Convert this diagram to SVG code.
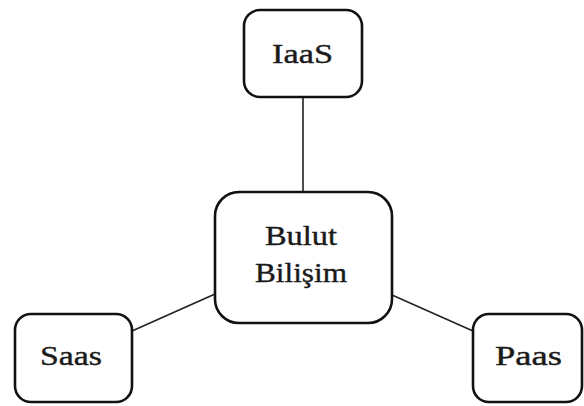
<svg xmlns="http://www.w3.org/2000/svg" width="584" height="406" viewBox="0 0 584 406">
  <style>
    .box { fill: #ffffff; stroke: #111111; stroke-width: 2.6; }
    .edge { stroke: #222222; stroke-width: 1.6; fill: none; }
    .label { font-family: "Liberation Serif", "Times New Roman", serif; font-size: 28px; fill: #1a1a1a; stroke: #1a1a1a; stroke-width: 0.4; text-anchor: middle; }
  </style>
  <rect width="584" height="406" fill="#ffffff"/>

  <!-- connectors from the centre node to each service model -->
  <g id="connectors">
    <line class="edge" x1="303" y1="97" x2="303" y2="192"/>
    <line class="edge" x1="132" y1="331" x2="215" y2="294"/>
    <line class="edge" x1="392" y1="295" x2="473" y2="331"/>
  </g>

  <g id="node-bulut">
    <rect class="box" x="215" y="192" width="177" height="131" rx="24" ry="24"/>
    <text class="label" x="301" y="245" textLength="72" lengthAdjust="spacingAndGlyphs">Bulut</text>
    <text class="label" x="301" y="282" textLength="92" lengthAdjust="spacingAndGlyphs">Bilişim</text>
  </g>

  <g id="node-iaas">
    <rect class="box" x="244" y="10" width="118" height="87" rx="16" ry="16"/>
    <text class="label" x="302.5" y="63" textLength="61" lengthAdjust="spacingAndGlyphs">IaaS</text>
  </g>

  <g id="node-saas">
    <rect class="box" x="15" y="314" width="117" height="88" rx="16" ry="16"/>
    <text class="label" x="71" y="365" textLength="62" lengthAdjust="spacingAndGlyphs">Saas</text>
  </g>

  <g id="node-paas">
    <rect class="box" x="473" y="314" width="109" height="88" rx="16" ry="16"/>
    <text class="label" x="528.5" y="365" textLength="67" lengthAdjust="spacingAndGlyphs">Paas</text>
  </g>
</svg>
